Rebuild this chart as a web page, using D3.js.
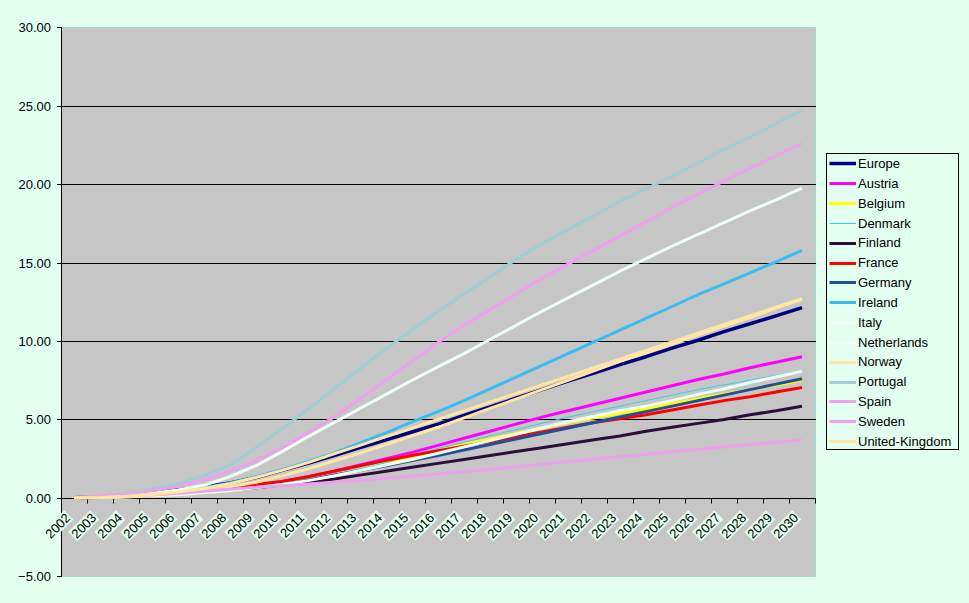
<!DOCTYPE html>
<html><head><meta charset="utf-8">
<script src="https://cdn.jsdelivr.net/npm/d3@7"></script>
<style>
body{margin:0;background:#E3FFF0;}
svg{display:block;font-family:Arial,"Liberation Sans",sans-serif;}
</style>
</head><body>
<svg id="chart" width="969" height="603"></svg>
<script>
const years = ["2002","2003","2004","2005","2006","2007","2008","2009","2010","2011","2012","2013","2014","2015","2016","2017","2018","2019","2020","2021","2022","2023","2024","2025","2026","2027","2028","2029","2030"];
const yTicks = [-5,0,5,10,15,20,25,30];

const europe      = [0,0.05,0.15,0.3,0.5,0.7,0.95,1.3,1.75,2.2,2.7,3.2,3.7,4.2,4.7,5.25,5.8,6.35,6.9,7.45,7.95,8.5,9.0,9.55,10.05,10.6,11.1,11.6,12.13];
const austria     = [0,0.03,0.08,0.15,0.25,0.4,0.58,0.8,1.05,1.35,1.7,2.1,2.5,2.9,3.35,3.8,4.25,4.7,5.15,5.55,5.95,6.35,6.75,7.15,7.55,7.9,8.3,8.65,9.0];
const belgium     = [0,0.03,0.08,0.15,0.24,0.36,0.5,0.68,0.9,1.15,1.45,1.8,2.2,2.6,3.0,3.4,3.75,4.1,4.45,4.8,5.1,5.4,5.7,6.0,6.3,6.6,6.9,7.2,7.5];
const denmark     = [0,0.03,0.07,0.13,0.22,0.35,0.5,0.7,0.93,1.2,1.5,1.85,2.25,2.7,3.15,3.55,3.95,4.35,4.75,5.15,5.5,5.85,6.2,6.55,6.9,7.2,7.5,7.8,8.13];
const finland     = [0,0.03,0.08,0.15,0.25,0.37,0.5,0.65,0.82,1.0,1.2,1.45,1.7,1.95,2.2,2.45,2.7,2.95,3.2,3.45,3.7,3.95,4.25,4.5,4.75,5.0,5.3,5.55,5.84];
const france      = [0,0.05,0.12,0.22,0.35,0.5,0.65,0.85,1.05,1.35,1.7,2.05,2.4,2.7,3.0,3.3,3.6,3.9,4.2,4.5,4.8,5.05,5.3,5.6,5.9,6.2,6.45,6.75,7.03];
const germany     = [0,0.03,0.08,0.15,0.24,0.35,0.5,0.65,0.85,1.12,1.45,1.75,2.05,2.38,2.7,3.05,3.4,3.75,4.1,4.45,4.8,5.15,5.5,5.85,6.2,6.55,6.9,7.25,7.6];
const ireland     = [0,0.04,0.12,0.25,0.42,0.65,0.95,1.35,1.8,2.3,2.85,3.5,4.15,4.85,5.5,6.2,6.95,7.7,8.45,9.2,9.95,10.7,11.45,12.2,12.95,13.65,14.35,15.05,15.78];
const italy       = [0,0.05,0.15,0.3,0.5,0.8,1.35,2.05,2.95,3.9,4.8,5.7,6.6,7.5,8.35,9.2,10.1,11.0,11.9,12.75,13.6,14.45,15.25,16.05,16.8,17.55,18.3,19.0,19.75];
const netherlands = [0,0.02,0.06,0.12,0.2,0.32,0.46,0.64,0.85,1.1,1.4,1.75,2.1,2.45,2.85,3.25,3.65,4.05,4.45,4.85,5.2,5.55,5.85,6.2,6.6,6.95,7.35,7.7,8.07];
const norway      = [0,0.02,0.07,0.15,0.28,0.45,0.7,1.0,1.4,1.85,2.35,2.85,3.4,3.95,4.5,5.1,5.7,6.3,6.9,7.5,8.1,8.7,9.25,9.8,10.4,10.95,11.5,12.1,12.65];
const portugal    = [0,0.1,0.3,0.55,0.9,1.4,2.1,3.2,4.4,5.65,6.95,8.25,9.5,10.7,11.9,13.0,14.1,15.2,16.2,17.1,18.0,18.9,19.7,20.5,21.35,22.2,23.0,23.85,24.7];
const spain       = [0,0.1,0.25,0.45,0.75,1.15,1.7,2.35,3.2,4.15,5.15,6.3,7.5,8.7,9.9,11.0,12.0,13.0,14.0,14.9,15.8,16.7,17.6,18.5,19.35,20.2,21.0,21.8,22.6];
const sweden      = [0,0.05,0.12,0.2,0.3,0.42,0.55,0.67,0.78,0.89,1.0,1.12,1.25,1.38,1.52,1.67,1.82,1.98,2.14,2.3,2.46,2.62,2.78,2.94,3.1,3.25,3.4,3.55,3.7];
const unitedKingdom = [0,0.03,0.1,0.22,0.38,0.6,0.9,1.3,1.75,2.25,2.8,3.35,3.9,4.45,5.0,5.55,6.1,6.65,7.2,7.75,8.3,8.85,9.4,9.95,10.5,11.05,11.6,12.15,12.7];

const seriesNames = ["Europe","Austria","Belgium","Denmark","Finland","France","Germany","Ireland","Italy","Netherlands","Norway","Portugal","Spain","Sweden","United-Kingdom"];
const seriesValues = [europe,austria,belgium,denmark,finland,france,germany,ireland,italy,netherlands,norway,portugal,spain,sweden,unitedKingdom];
const seriesColors = ["#000080","#FF00FF","#FFFF00","#33CCFF","#2B0D3B","#FF0000","#215096","#38BDF0","#EEFFF4","#EEFFF4","#FFE6A2","#9ECED2","#EEA0EE","#EEA0EE","#FFE6A2"];
const seriesWidths = [3.5,3,3,1,3,3,3,3,3,3,3,3,3,3,3];

const bg = "#E3FFF0";
const svg = d3.select("#chart");
const L = 61, R = 815, T = 27.3, B = 576.3;

const x = d3.scaleBand().domain(years).range([L, R]).paddingInner(0).paddingOuter(0);
const y = d3.scaleLinear().domain([-5, 30]).range([B, T]);
const yp = v => Math.round(y(v)) + 0.5;

// plot area
svg.append("rect").attr("x", L).attr("y", Math.round(T)).attr("width", R - L + 1).attr("height", Math.round(B) - Math.round(T))
  .attr("fill", "#C6C6C6");
// border
svg.append("path").attr("d", `M${L},${Math.round(T)+0.5}H${R+0.5}V${Math.round(B)+0.5}H${L}`)
  .attr("fill","none").attr("stroke","#9FD6CE").attr("stroke-width",1);

// gridlines
svg.append("g").selectAll("line").data(yTicks.filter(v => v > 0 && v < 30)).join("line")
  .attr("x1", L).attr("x2", R + 1).attr("y1", d => yp(d)).attr("y2", d => yp(d))
  .attr("stroke", "#000").attr("stroke-width", 1);

// y axis
const yAxis = svg.append("g");
yAxis.append("line").attr("x1", L + 0.5).attr("x2", L + 0.5).attr("y1", Math.round(T)).attr("y2", Math.round(B) + 1).attr("stroke", "#000");
yAxis.selectAll("line.t").data(yTicks).join("line").attr("class","t")
  .attr("x1", L - 4).attr("x2", L + 1).attr("y1", d => yp(d)).attr("y2", d => yp(d)).attr("stroke", "#000");
yAxis.selectAll("text").data(yTicks).join("text")
  .attr("x", 51).attr("y", d => yp(d)).attr("dy", "0.36em").attr("text-anchor", "end")
  .attr("font-size", 13).attr("fill", "#000").text(d3.format(".2f"));

// x axis at zero
const y0 = yp(0);
svg.append("line").attr("x1", L).attr("x2", R + 1).attr("y1", y0).attr("y2", y0).attr("stroke", "#000");
const bounds = years.map(d => x(d)).concat([R]).slice(1);
svg.append("g").selectAll("line").data(bounds).join("line")
  .attr("x1", d => Math.round(d) + 0.5).attr("x2", d => Math.round(d) + 0.5)
  .attr("y1", y0).attr("y2", y0 + 5).attr("stroke", "#000");

// x labels
const xl = svg.append("g");
years.forEach(yr => {
  const cx = x(yr) + x.bandwidth() / 2;
  const g = xl.append("g").attr("transform", `translate(${cx - 6},${y0 + 17}) rotate(-45)`);
  const t = g.append("text").attr("text-anchor", "end").attr("dy", "0.35em")
    .attr("font-size", 13).attr("fill", "#000").text(yr);
  const bb = t.node().getBBox();
  g.insert("rect", "text").attr("x", bb.x - 1).attr("y", bb.y + 1).attr("width", bb.width + 2).attr("height", bb.height - 2)
    .attr("fill", bg);
});

// lines
const line = d3.line().x((d, i) => x(years[i]) + x.bandwidth() / 2).y(d => y(d));
const lg = svg.append("g");
seriesValues.forEach((vals, i) => {
  lg.append("path").datum(vals).attr("d", line)
    .attr("fill", "none").attr("stroke", seriesColors[i]).attr("stroke-width", seriesWidths[i])
    .attr("stroke-linejoin", "round").attr("stroke-linecap", "butt");
});

// legend
const lx = 826, ly = 153, lw = 132, lh = 296;
svg.append("rect").attr("x", lx + 0.5).attr("y", ly + 0.5).attr("width", lw).attr("height", lh)
  .attr("fill", bg).attr("stroke", "#000").attr("stroke-width", 1);
const leg = svg.append("g");
seriesNames.forEach((n, i) => {
  const cy = 163.3 + i * 19.84;
  leg.append("line").attr("x1", 829.5).attr("x2", 856).attr("y1", Math.round(cy) + 0.5).attr("y2", Math.round(cy) + 0.5)
    .attr("stroke", seriesColors[i]).attr("stroke-width", seriesWidths[i]);
  leg.append("text").attr("x", 858).attr("y", cy).attr("dy", "0.36em").attr("font-size", 13).attr("fill", "#000").text(n);
});
</script>
</body></html>
